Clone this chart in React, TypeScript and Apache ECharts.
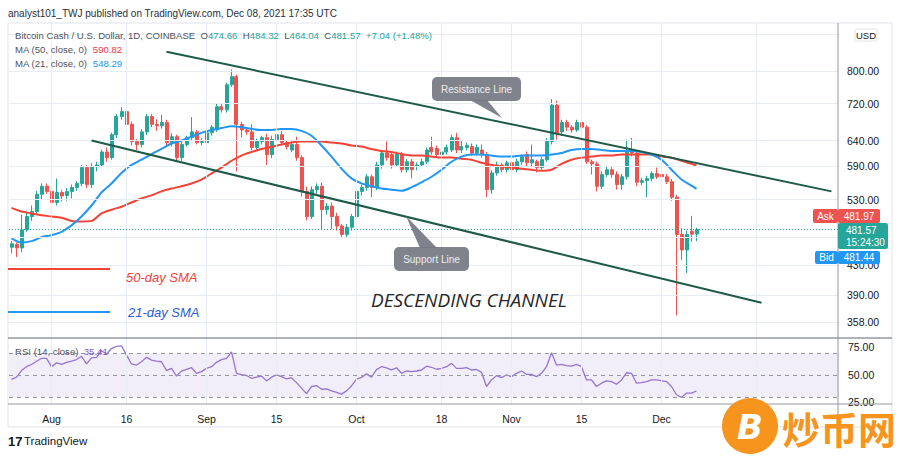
import React, { useEffect, useRef } from "react";
import * as echarts from "echarts";

// ---------- data ----------
const FIRST_DAY_UTC = Date.UTC(2021, 6, 24); // Jul 24, 2021
const AXIS_DAYS = 166; // categories shown on the time axis (data ends Dec 08)

// daily candles from Jul 24 to Dec 08: [open, close, low, high]
const ohlc: number[][] = [
  [455, 460, 446, 464], [459, 454, 441, 462], [454, 481, 448, 505], [481, 502, 478, 510], [502, 510, 495, 520],
  [510, 539, 505, 545], [539, 553, 530, 558], [553, 544, 540, 558],
  // Aug
  [544, 525, 517, 548], [525, 542, 520, 567], [542, 536, 527, 547], [537, 544, 528, 550], [544, 551, 532, 556],
  [551, 558, 545, 562], [558, 587, 553, 592], [587, 556, 550, 592], [556, 589, 550, 595], [589, 592, 580, 598],
  [592, 617, 588, 622], [617, 606, 598, 626], [606, 652, 602, 656], [652, 691, 645, 697], [691, 702, 684, 713],
  [702, 674, 668, 708], [674, 638, 630, 680], [638, 632, 621, 643], [632, 658, 626, 664], [658, 691, 652, 697],
  [691, 674, 668, 697], [674, 671, 660, 685], [671, 678, 665, 695], [678, 636, 630, 684], [636, 648, 628, 655],
  [648, 606, 600, 652], [606, 632, 600, 640], [632, 646, 628, 650], [646, 658, 640, 690], [658, 636, 632, 662],
  [636, 638, 630, 645],
  // Sep
  [636, 656, 630, 660], [656, 668, 650, 672], [662, 713, 658, 721], [713, 706, 700, 720], [706, 765, 700, 770],
  [765, 785, 760, 803], [785, 674, 580, 790], [674, 662, 646, 680], [662, 658, 652, 668], [658, 626, 620, 674],
  [626, 638, 622, 644], [638, 646, 632, 650], [646, 612, 592, 654], [612, 642, 605, 650], [642, 652, 636, 658],
  [652, 636, 630, 660], [636, 628, 622, 640], [621, 632, 617, 638], [632, 606, 600, 648], [606, 544, 535, 610],
  [544, 502, 496, 552], [502, 547, 498, 553], [547, 553, 540, 558], [553, 513, 482, 560], [513, 519, 505, 524],
  [519, 502, 482, 525], [502, 487, 480, 508], [487, 474, 470, 490], [474, 485, 470, 490], [485, 502, 480, 506],
  // Oct
  [502, 544, 497, 560], [544, 551, 537, 556], [551, 570, 545, 575], [570, 551, 534, 574], [551, 592, 546, 598],
  [592, 615, 585, 620], [615, 606, 600, 638], [612, 592, 585, 618], [592, 612, 588, 618], [612, 583, 578, 617],
  [583, 598, 578, 603], [598, 583, 567, 603], [589, 592, 582, 597], [592, 598, 588, 604], [598, 621, 594, 626],
  [626, 617, 612, 648], [624, 612, 607, 630], [612, 617, 606, 622], [617, 626, 612, 632], [621, 646, 617, 652],
  [646, 621, 615, 656], [621, 628, 615, 640], [626, 630, 620, 636], [628, 615, 610, 634], [615, 626, 610, 632],
  [621, 612, 606, 632], [612, 547, 534, 617], [547, 577, 540, 582], [577, 592, 572, 598], [592, 583, 578, 596],
  [583, 596, 578, 600],
  // Nov
  [596, 583, 578, 602], [583, 598, 578, 604], [598, 608, 592, 612], [612, 596, 590, 618], [596, 602, 590, 632],
  [598, 587, 578, 602], [587, 602, 583, 607], [602, 638, 598, 645], [638, 717, 632, 731], [717, 656, 642, 727],
  [658, 678, 650, 684], [678, 668, 660, 684], [668, 662, 656, 672], [662, 678, 658, 684], [678, 668, 664, 688],
  [668, 598, 594, 672], [598, 594, 574, 602], [594, 553, 544, 598], [553, 574, 548, 580], [574, 583, 570, 588],
  [583, 574, 568, 588], [574, 556, 547, 580], [556, 570, 547, 575], [570, 617, 565, 642], [617, 615, 608, 645],
  [615, 560, 553, 620], [560, 563, 555, 568], [563, 567, 534, 572], [567, 576, 562, 580], [576, 570, 566, 587],
  // Dec
  [574, 570, 562, 588], [570, 561, 557, 575], [561, 534, 528, 566], [534, 474, 366, 538], [474, 451, 437, 484],
  [451, 474, 419, 480], [479, 474.53, 463, 503], [474.66, 481.57, 464.04, 484.32],
];

// moving averages: [day index, value]
const ma50Points: number[][] = [
  [0, 516], [2, 510], [4, 507], [6, 504], [8, 502], [10, 500], [12, 495], [14, 494], [16, 495], [18, 507],
  [20, 513], [22, 518], [24, 525], [26, 532], [28, 537], [30, 544], [32, 549], [34, 553], [36, 558], [38, 565],
  [40, 576], [42, 587], [44, 600], [46, 610], [48, 617], [50, 623], [52, 627], [54, 632], [56, 636], [58, 638],
  [60, 638], [62, 638], [64, 636], [66, 634], [68, 630], [70, 628], [72, 623], [74, 619], [76, 617], [78, 613],
  [80, 610], [82, 610], [84, 608], [86, 606], [88, 606], [90, 604], [92, 602], [94, 596], [96, 592], [98, 589],
  [100, 587], [102, 585], [104, 583], [106, 581], [108, 583], [110, 594], [112, 602], [114, 606], [116, 608],
  [118, 610], [120, 610], [122, 612], [124, 612], [126, 612], [128, 612], [130, 608], [132, 606], [134, 600],
  [136, 594], [137, 590.82],
];
const ma21Points: number[][] = [
  [0, 468], [2, 462], [4, 464], [6, 470], [8, 473], [10, 478], [12, 488], [14, 502], [16, 520], [18, 542],
  [20, 558], [22, 577], [24, 592], [26, 602], [28, 613], [30, 623], [32, 634], [34, 640], [36, 648], [38, 656],
  [40, 662], [42, 666], [44, 670], [46, 668], [48, 664], [50, 662], [52, 662], [54, 664], [56, 664], [58, 660],
  [60, 650], [62, 630], [64, 608], [66, 585], [68, 567], [70, 558], [72, 553], [74, 549], [76, 547], [78, 545],
  [80, 551], [82, 560], [84, 570], [86, 583], [88, 598], [90, 608], [92, 612], [94, 612], [96, 610], [98, 608],
  [100, 608], [102, 610], [104, 610], [106, 610], [108, 612], [110, 615], [112, 621], [114, 623], [116, 623],
  [118, 621], [120, 619], [122, 619], [124, 619], [126, 617], [128, 612], [130, 602], [132, 583], [134, 565],
  [136, 554], [137, 548.29],
];

// RSI (14, close), one value per candle
const rsiValues: number[] = [
  46, 48, 54, 57.5, 59.5, 62.5, 65, 65, 57.5, 61,
  59.6, 61.4, 62.5, 64, 67, 60, 65.6, 66, 72, 69,
  74, 76, 76.5, 68, 60, 59, 62, 66, 63.5, 62.6,
  62, 54, 56, 49, 53.5, 55, 56.6, 51.5, 53, 56,
  57.5, 61.5, 64, 65, 71, 51.5, 50.4, 49.5, 47, 48,
  49, 44.6, 48, 50, 48.5, 46.5, 47.5, 43, 38, 33,
  39.5, 40.4, 37, 37.4, 35.5, 34.2, 32.6, 35.5, 40, 46.2,
  47.8, 51, 48, 54.8, 57.5, 56.5, 54.6, 56.5, 51.5, 53.6,
  53, 53.6, 54.5, 58, 57, 55.2, 56, 57.5, 60.5, 56,
  56, 56.6, 54.5, 55, 52.4, 39.5, 45.5, 49.4, 47.6, 50,
  48.5, 51.5, 53.6, 50.6, 50.6, 48.5, 51.5, 57.5, 70.2, 59,
  59.6, 58.4, 58, 59.6, 57.5, 45.5, 45.5, 39.5, 42.5, 44.6,
  44, 41.6, 45.5, 52, 51.5, 42.5, 43.1, 44, 45.5, 45.5,
  44.9, 44, 39.5, 32, 29.6, 33.5, 33.5, 35.41,
];

const priceTicks = [358, 390, 430, 470, 530, 590, 640, 720, 800, 900];
const hiddenPriceLabels = [470, 900]; // covered by the last-price box / USD badge
const rsiTicks = [25, 50, 75];
const rsiLevels = [30, 50, 70];
const dateTickDays = ["2021-08-01", "2021-08-16", "2021-09-01", "2021-09-15", "2021-10-01", "2021-10-18", "2021-11-01", "2021-11-15", "2021-12-01", "2021-12-20"];
const dateTickLabels = ["Aug", "16", "Sep", "15", "Oct", "18", "Nov", "15", "Dec", "20"];

const resistanceLine: [string, number][] = [["2021-08-24", 850], ["2022-01-04", 544]];
const supportLine: [string, number][] = [["2021-08-09", 640], ["2021-12-21", 381]];
const lastPrice = 481.57;

// ---------- chart ----------
const FONT = "'Liberation Sans', Arial, sans-serif";

function buildOption() {
  const dates: string[] = [];
  for (let i = 0; i < AXIS_DAYS; i++) {
    dates.push(new Date(FIRST_DAY_UTC + i * 86400000).toISOString().slice(0, 10));
  }
  const labelMap: Record<string, string> = {};
  dateTickDays.forEach((d, i) => (labelMap[d] = dateTickLabels[i]));

  const gridLine = { color: "#e8edf3", width: 1, type: "solid" };
  const noSym = ["none", "none"];

  const text = (x: number, y: number, t: string, style: any = {}, z = 100) => ({
    type: "text",
    x,
    y,
    z,
    silent: true,
    style: { text: t, fontFamily: FONT, fontSize: 11, fill: "#131722", verticalAlign: "middle", ...style },
  });
  const rich = (x: number, y: number, t: string, styles: Record<string, string>) => {
    const r: any = {};
    Object.keys(styles).forEach((k) => (r[k] = { fill: styles[k], fontSize: 9.6, fontFamily: FONT }));
    return { type: "text", x, y, z: 100, silent: true, style: { text: t, rich: r, verticalAlign: "middle", fontSize: 9.6, fontFamily: FONT } };
  };
  const rect = (x: number, y: number, w: number, h: number, fill: string, r = 2, extra: any = {}) => ({
    type: "rect",
    z: 99,
    silent: true,
    shape: { x, y, width: w, height: h, r },
    style: { fill, ...extra },
  });
  const line = (x1: number, y1: number, x2: number, y2: number, stroke: string, lineWidth = 1) => ({
    type: "line",
    z: 98,
    silent: true,
    shape: { x1, y1, x2, y2 },
    style: { stroke, lineWidth },
  });

  const calloutFill = "rgba(117,120,130,0.92)";

  const graphic: any[] = [
    // frame & pane separators
    { type: "rect", z: 97, silent: true, shape: { x: 8, y: 23, width: 884, height: 404 }, style: { fill: "none", stroke: "#e0e3eb", lineWidth: 1 } },
    line(838, 23, 838, 427, "#9598a1", 1),
    line(8, 338, 892, 338, "#9598a1", 1.5),
    line(8, 404, 892, 404, "#9598a1", 1),

    // header
    text(8, 13, "analyst101_TWJ published on TradingView.com, Dec 08, 2021 17:35 UTC", { fontSize: 10, fill: "#2a2e39" }),
    rich(15, 35, "{l|Bitcoin Cash / U.S. Dollar, 1D, COINBASE  O}{g|474.66}{l|  H}{g|484.32}{l|  L}{g|464.04}{l|  C}{g|481.57}{g|  +7.04 (+1.48%)}", { l: "#50535e", g: "#26a69a" }),
    rich(15, 49, "{l|MA (50, close, 0)  }{r|590.82}", { l: "#50535e", r: "#f23645" }),
    rich(15, 63, "{l|MA (21, close, 0)  }{b|548.29}", { l: "#50535e", b: "#2196f3" }),
    rich(15, 351, "{l|RSI (14, close)  }{p|35.41}", { l: "#50535e", p: "#7e57c2" }),

    // SMA legend drawn on chart
    line(8, 269, 110, 269, "#f44336", 2),
    text(126, 277, "50-day SMA", { fontSize: 13, fontStyle: "italic", fill: "#f0433a" }),
    line(8, 312, 110, 312, "#2196f3", 2),
    text(128, 312, "21-day SMA", { fontSize: 13, fontStyle: "italic", fill: "#2b5bd8" }),

    // title annotation
    text(371, 300, "DESCENDING CHANNEL", { fontSize: 19, fontStyle: "italic", fill: "#262626", fontFamily: "'Open Sans', sans-serif" }),

    // callouts
    rect(432, 77, 89, 24, calloutFill, 5),
    { type: "polygon", z: 99, silent: true, shape: { points: [[470, 100], [487, 100], [502, 118]] }, style: { fill: calloutFill } },
    text(476.5, 89, "Resistance Line", { fontSize: 10, fill: "#eeeeee", align: "center" }),
    rect(394, 247, 75, 24, calloutFill, 5),
    { type: "polygon", z: 99, silent: true, shape: { points: [[420, 248], [437, 248], [406, 216]] }, style: { fill: calloutFill } },
    text(431.5, 259, "Support Line", { fontSize: 10, fill: "#eeeeee", align: "center" }),

    // price scale boxes
    rect(855, 29, 22, 12, "#ffffff", 2, { stroke: "#e0e3eb", lineWidth: 1 }),
    text(866, 35, "USD", { fontSize: 9.5, align: "center" }),
    rect(813, 209, 25, 14, "#ef5350", 2),
    text(825.5, 216, "Ask", { fontSize: 10, fill: "#ffffff", align: "center" }),
    rect(838, 209, 42, 14, "#ef5350", 2),
    text(859, 216, "481.97", { fontSize: 10, fill: "#ffffff", align: "center" }),
    rect(838, 223, 50, 26, "#26a69a", 2),
    text(846, 230, "481.57", { fontSize: 10, fill: "#ffffff" }),
    text(846, 242, "15:24:30", { fontSize: 10, fill: "#ffffff" }),
    rect(815, 251, 23, 13, "#2196f3", 2),
    text(826.5, 257.5, "Bid", { fontSize: 10, fill: "#ffffff", align: "center" }),
    rect(838, 251, 42, 13, "#2196f3", 2),
    text(859, 257.5, "481.44", { fontSize: 10, fill: "#ffffff", align: "center" }),

    // footer logo
    text(8, 441, "17", { fontSize: 13, fontWeight: "bold", fill: "#131722" }),
    text(24, 441, "TradingView", { fontSize: 11.5, fill: "#131722" }),

    // watermark
    { type: "circle", z: 101, silent: true, shape: { cx: 750, cy: 426, r: 28 }, style: { fill: "#f6941d" } },
    text(750, 427, "B", { fontSize: 34, fontWeight: "bold", fontStyle: "italic", fill: "#ffffff", align: "center", fontFamily: "'DejaVu Sans', sans-serif" }, 103),
    text(782, 427, "炒币网", { fontSize: 38, fontWeight: "bold", fill: "#f6941d", fontFamily: "'Noto Sans CJK SC', sans-serif" }, 103),
  ];

  return {
    animation: false,
    backgroundColor: "#ffffff",
    textStyle: { fontFamily: FONT },
    grid: [
      { left: 9, right: 61, top: 23, height: 315 },
      { left: 9, right: 61, top: 338, height: 66 },
    ],
    xAxis: [
      {
        type: "category", gridIndex: 0, data: dates, boundaryGap: true,
        axisLine: { show: false }, axisTick: { show: false }, axisLabel: { show: false }, splitLine: { show: false },
      },
      {
        type: "category", gridIndex: 1, data: dates, boundaryGap: true,
        axisLine: { show: false }, axisTick: { show: false }, splitLine: { show: false },
        axisLabel: {
          interval: (_i: number, v: string) => v in labelMap,
          formatter: (v: string) => labelMap[v] ?? "",
          color: "#131722", fontSize: 10.5, margin: 9,
        },
      },
    ],
    yAxis: [
      {
        type: "log", gridIndex: 0, position: "right", min: 340.4, max: 932,
        axisLine: { show: false }, axisTick: { show: false }, axisLabel: { show: false }, splitLine: { show: false },
      },
      {
        type: "value", gridIndex: 1, position: "right", min: 23.6, max: 83.6,
        axisLine: { show: false }, axisTick: { show: false }, splitLine: { show: false },
        axisLabel: { customValues: rsiTicks, formatter: (v: number) => v.toFixed(2), color: "#131722", fontSize: 10.5, margin: 9 },
      },
    ],
    series: [
      {
        name: "priceGrid", type: "line", xAxisIndex: 0, yAxisIndex: 0, data: [], z: 1, silent: true, clip: false,
        markLine: {
          silent: true, symbol: noSym, animation: false,
          data: [
            ...priceTicks.map((v) => ({
              yAxis: v, lineStyle: gridLine,
              label: { show: !hiddenPriceLabels.includes(v), position: "end", formatter: v.toFixed(2), color: "#131722", fontSize: 10.5, distance: 8, fontFamily: FONT },
            })),
            ...dateTickDays.map((d) => ({ xAxis: d, lineStyle: gridLine, label: { show: false } })),
          ],
        },
      },
      {
        name: "BCHUSD", type: "candlestick", xAxisIndex: 0, yAxisIndex: 0, data: ohlc, barWidth: 3.5, z: 3,
        itemStyle: { color: "#26a69a", color0: "#ef5350", borderColor: "#26a69a", borderColor0: "#ef5350", borderWidth: 1 },
        markLine: {
          silent: true, symbol: noSym, label: { show: false }, animation: false,
          lineStyle: { color: "#26a69a", type: [1, 2], width: 1 },
          data: [{ yAxis: lastPrice }],
        },
      },
      {
        name: "MA50", type: "line", xAxisIndex: 0, yAxisIndex: 0, data: ma50Points, smooth: 0.3, showSymbol: false,
        connectNulls: true, z: 4, lineStyle: { color: "#f44336", width: 2 },
      },
      {
        name: "MA21", type: "line", xAxisIndex: 0, yAxisIndex: 0, data: ma21Points, smooth: 0.3, showSymbol: false,
        connectNulls: true, z: 4, lineStyle: { color: "#2196f3", width: 2 },
      },
      {
        name: "channel", type: "line", xAxisIndex: 0, yAxisIndex: 0, data: [], z: 5, silent: true,
        markLine: {
          silent: true, symbol: noSym, label: { show: false }, animation: false,
          lineStyle: { color: "#1f5a48", width: 2, type: "solid" },
          data: [
            [{ coord: resistanceLine[0] }, { coord: resistanceLine[1] }],
            [{ coord: supportLine[0] }, { coord: supportLine[1] }],
          ],
        },
      },
      {
        name: "rsiGrid", type: "line", xAxisIndex: 1, yAxisIndex: 1, data: [], z: 1, silent: true,
        markArea: { silent: true, itemStyle: { color: "rgba(126,87,194,0.1)" }, data: [[{ yAxis: 30 }, { yAxis: 70 }]] },
        markLine: {
          silent: true, symbol: noSym, label: { show: false }, animation: false,
          data: [
            ...dateTickDays.map((d) => ({ xAxis: d, lineStyle: gridLine })),
            ...rsiLevels.map((v) => ({ yAxis: v, lineStyle: { color: "#9598a1", width: 1, type: [4, 4] } })),
          ],
        },
      },
      {
        name: "RSI", type: "line", xAxisIndex: 1, yAxisIndex: 1, data: rsiValues, showSymbol: false, z: 4,
        lineStyle: { color: "#9575cd", width: 1.3 },
      },
    ],
    graphic,
  };
}

export default function App() {
  const ref = useRef<HTMLDivElement>(null);
  useEffect(() => {
    if (!ref.current) return;
    const chart = echarts.init(ref.current, null, { renderer: "svg" });
    chart.setOption(buildOption() as any);
    return () => chart.dispose();
  }, []);
  return (
    <div
      ref={ref}
      style={{ position: "fixed", left: 0, top: 0, width: 900, height: 457, background: "#ffffff" }}
    />
  );
}
